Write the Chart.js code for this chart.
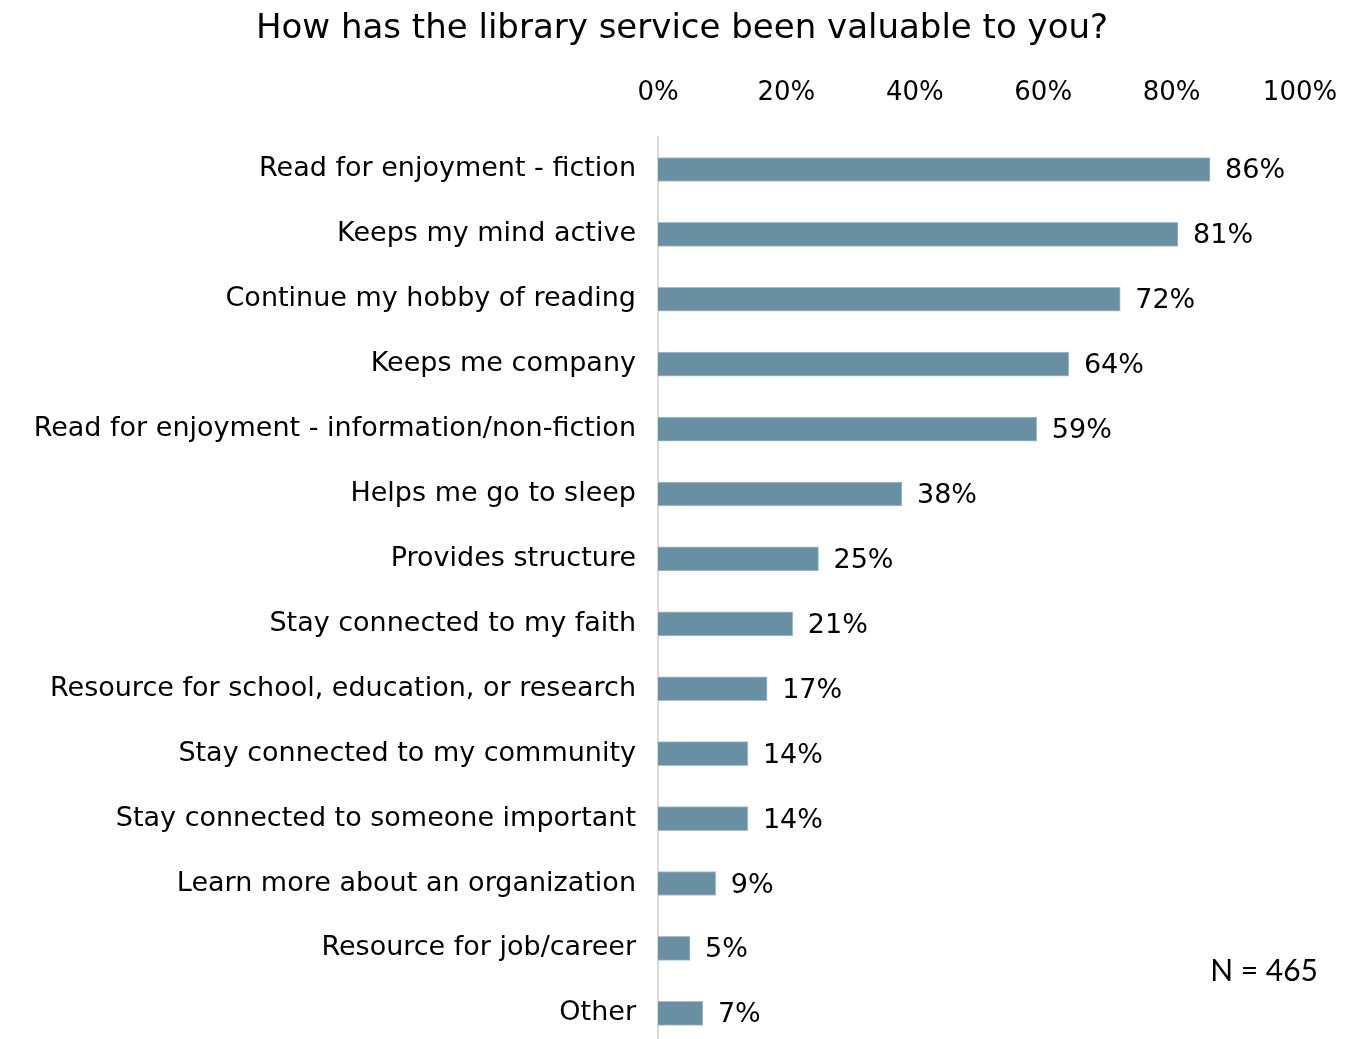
<!DOCTYPE html>
<html>
<head>
<meta charset="utf-8">
<title>Library service value</title>
<script src="https://cdn.jsdelivr.net/npm/chart.js@4.4.1/dist/chart.umd.min.js"></script>
<style>
  html, body { margin: 0; padding: 0; background: #fff; overflow: hidden; }
  #wrap { width: 1356px; height: 1062px; }
</style>
</head>
<body>
<div id="wrap"><canvas id="valueChart" width="1356" height="1062"></canvas></div>
<script>
const reasons = [
  "Read for enjoyment - fiction",
  "Keeps my mind active",
  "Continue my hobby of reading",
  "Keeps me company",
  "Read for enjoyment - information/non-fiction",
  "Helps me go to sleep",
  "Provides structure",
  "Stay connected to my faith",
  "Resource for school, education, or research",
  "Stay connected to my community",
  "Stay connected to someone important",
  "Learn more about an organization",
  "Resource for job/career",
  "Other"
];
const shares = [86, 81, 72, 64, 59, 38, 25, 21, 17, 14, 14, 9, 5, 7];
const xTicks = ["0%", "20%", "40%", "60%", "80%", "100%"];
const chartTitle = "How has the library service been valuable to you?";
const sampleNote = "N = 465";

const comic = '"Comic Sans MS", "DejaVu Sans", sans-serif';
const barColor = "#688fa2";

// title centred over the whole figure (labels + bars), not just the plot
const headline = {
  id: "headline",
  afterDraw(chart) {
    const ctx = chart.ctx;
    ctx.save();
    ctx.font = "34px " + comic;
    ctx.fillStyle = "#000";
    ctx.textAlign = "center";
    ctx.textBaseline = "middle";
    ctx.fillText(chartTitle, chart.width / 2 + 4, 29);
    ctx.restore();
  }
};

// percentage text to the right of each bar
const valueLabels = {
  id: "valueLabels",
  afterDatasetsDraw(chart) {
    const ctx = chart.ctx;
    const meta = chart.getDatasetMeta(0);
    ctx.save();
    ctx.font = "27px " + comic;
    ctx.fillStyle = "#000";
    ctx.textAlign = "left";
    ctx.textBaseline = "middle";
    meta.data.forEach((bar, i) => {
      ctx.fillText(shares[i] + "%", bar.x + 15, bar.y + 2);
    });
    ctx.restore();
  }
};

// respondent count in the lower right corner
const sampleSize = {
  id: "sampleSize",
  afterDraw(chart) {
    const ctx = chart.ctx;
    const area = chart.chartArea;
    ctx.save();
    ctx.font = '30px Lato, "Liberation Sans", sans-serif';
    ctx.fillStyle = "#000";
    ctx.textAlign = "right";
    ctx.textBaseline = "middle";
    ctx.fillText(sampleNote, area.right + 18, area.bottom - 74);
    ctx.restore();
  }
};

const ctx = document.getElementById("valueChart").getContext("2d");
new Chart(ctx, {
  type: "bar",
  data: {
    labels: reasons,
    datasets: [{
      data: shares,
      backgroundColor: barColor,
      borderColor: "#a9c0cc",
      borderWidth: 1,
      barThickness: 24
    }]
  },
  options: {
    indexAxis: "y",
    responsive: false,
    animation: false,
    layout: { padding: { left: 0, right: 56, top: 0, bottom: 0 } },
    plugins: {
      legend: { display: false },
      tooltip: { enabled: false },
      title: { display: false }
    },
    scales: {
      x: {
        position: "top",
        min: 0,
        max: 100,
        // tick marks hidden; tickLength only spaces the labels off the bars
        grid: { display: false, drawTicks: true, tickLength: 28 },
        border: { display: false },
        ticks: {
          stepSize: 20,
          color: "#000",
          padding: 0,
          font: { family: comic, size: 26 },
          callback: (v) => xTicks[v / 20]
        },
        // room for the tick row plus the title above it
        afterFit: (scale) => { scale.height = 137; }
      },
      y: {
        grid: { display: false, drawTicks: true, tickLength: 22 },
        border: { display: true, color: "#d9d9d9", width: 2 },
        ticks: {
          color: "#000",
          padding: 0,
          font: { family: comic, size: 27 }
        },
        afterFit: (scale) => { scale.width = 658; }
      }
    }
  },
  plugins: [headline, valueLabels, sampleSize]
});
</script>
</body>
</html>
